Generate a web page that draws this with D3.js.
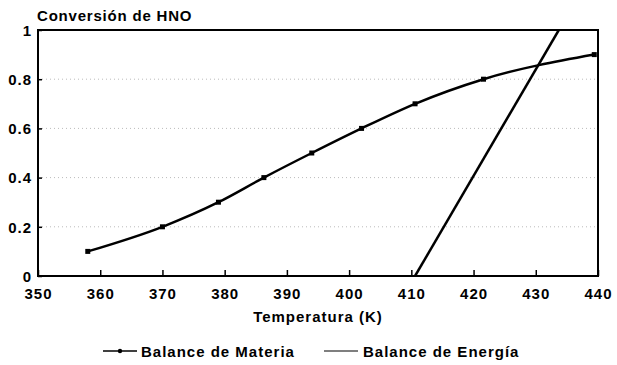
<!DOCTYPE html>
<html><head><meta charset="utf-8">
<script src="https://cdn.jsdelivr.net/npm/d3@7"></script>
<style>body{margin:0;background:#fff}svg{display:block}text{font-family:"Liberation Sans",Arial,sans-serif;fill:#000;font-weight:bold}</style>
</head><body>
<script>
const xTicks = [350,360,370,380,390,400,410,420,430,440];
const yTicks = [0,0.2,0.4,0.6,0.8,1];
const yTickLabels = ["0","0.2","0.4","0.6","0.8","1"];
const materiaT = [358,370,379,386.3,394,402,410.6,421.6,439.4];
const materiaX = [0.10,0.20,0.30,0.40,0.50,0.60,0.70,0.80,0.90];
const energiaT = [410.6,433.7];
const energiaX = [0,1];
const seriesNames = ["Balance de Materia","Balance de Energía"];

const W=617,H=365;
const m={l:38,r:19,t:30,b:89};
const svg=d3.select("body").append("svg").attr("width",W).attr("height",H);
const x=d3.scaleLinear().domain([350,440]).range([m.l,W-m.r]);
const y=d3.scaleLinear().domain([0,1]).range([H-m.b,m.t]);

svg.append("defs").append("clipPath").attr("id","c").append("rect")
  .attr("x",m.l).attr("y",m.t).attr("width",W-m.r-m.l).attr("height",H-m.b-m.t);

// faint gridlines
svg.append("g").selectAll("line").data(yTicks.slice(1,-1)).join("line")
  .attr("x1",m.l).attr("x2",W-m.r).attr("y1",d=>y(d)).attr("y2",d=>y(d))
  .attr("stroke","#bbb").attr("stroke-width",1).attr("stroke-dasharray","1,3");

// axes
const xa=svg.append("g").attr("transform",`translate(0,${H-m.b})`)
  .call(d3.axisBottom(x).tickValues(xTicks).tickSize(-6).tickPadding(12).tickFormat(d3.format("d")));
const ya=svg.append("g").attr("transform",`translate(${m.l},0)`)
  .call(d3.axisLeft(y).tickValues(yTicks).tickSize(-4).tickPadding(6).tickFormat((d,i)=>yTickLabels[i]));
[xa,ya].forEach(a=>{a.select(".domain").remove();a.selectAll("line").attr("stroke","#000").attr("stroke-width",1.5);
  a.selectAll("text").style("font-size","15px").style("letter-spacing","1px").attr("fill","#000");});
ya.selectAll("text").attr("dy","0.35em");

// frame
svg.append("rect").attr("x",m.l).attr("y",m.t).attr("width",W-m.r-m.l).attr("height",H-m.b-m.t)
  .attr("fill","none").attr("stroke","#000").attr("stroke-width",2);

const g=svg.append("g").attr("clip-path","url(#c)");
const line=d3.line().x(d=>x(d[0])).y(d=>y(d[1])).curve(d3.curveMonotoneX);
const mat=materiaT.map((t,i)=>[t,materiaX[i]]);
g.append("path").attr("d",line(mat)).attr("fill","none").attr("stroke","#000").attr("stroke-width",2.5);
svg.append("g").selectAll("rect").data(mat).join("rect")
  .attr("x",d=>x(d[0])-2.5).attr("y",d=>y(d[1])-2.5).attr("width",5).attr("height",5).attr("fill","#000");
const en=energiaT.map((t,i)=>[t,energiaX[i]]);
g.append("path").attr("d",d3.line().x(d=>x(d[0])).y(d=>y(d[1]))(en)).attr("fill","none").attr("stroke","#000").attr("stroke-width",2.5);

// titles
svg.append("text").attr("x",37).attr("y",21).style("font-size","15px").style("letter-spacing","0.8px").text("Conversión de HNO");
svg.append("text").attr("x",(m.l+W-m.r)/2).attr("y",322).attr("text-anchor","middle").style("font-size","15px").style("letter-spacing","1px").text("Temperatura (K)");

// legend
const lg=svg.append("g");
lg.append("line").attr("x1",103).attr("x2",137).attr("y1",351).attr("y2",351).attr("stroke","#000").attr("stroke-width",1.5);
lg.append("circle").attr("cx",120).attr("cy",351).attr("r",2.2).attr("fill","#000");
lg.append("text").attr("x",141).attr("y",357).style("font-size","15px").style("letter-spacing","1px").text(seriesNames[0]);
lg.append("line").attr("x1",324).attr("x2",358).attr("y1",351).attr("y2",351).attr("stroke","#000").attr("stroke-width",1.2);
lg.append("text").attr("x",363).attr("y",357).style("font-size","15px").style("letter-spacing","1px").text(seriesNames[1]);
</script>
</body></html>
